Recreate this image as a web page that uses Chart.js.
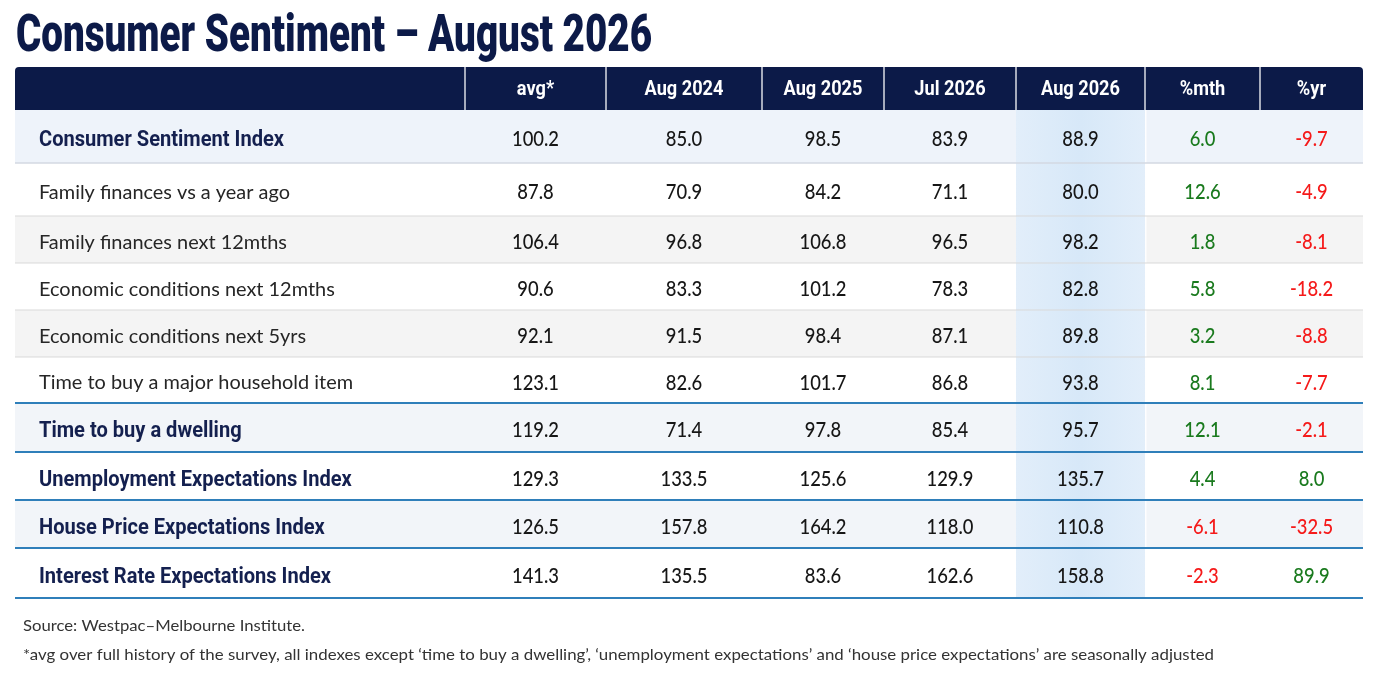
<!DOCTYPE html>
<html>
<head>
<meta charset="utf-8">
<script src="https://cdn.jsdelivr.net/npm/chart.js@4.4.1/dist/chart.umd.min.js"></script>
<style>
  html, body { margin: 0; background: #fff; }
  #wrap { position: relative; width: 1379px; height: 690px; }
</style>
</head>
<body>
<div id="wrap"><canvas id="table"></canvas></div>
<script>
const title = "Consumer Sentiment – August 2026";
const columns = ["avg*", "Aug 2024", "Aug 2025", "Jul 2026", "Aug 2026", "%mth", "%yr"];
const rows = [
  "Consumer Sentiment Index",
  "Family finances vs a year ago",
  "Family finances next 12mths",
  "Economic conditions next 12mths",
  "Economic conditions next 5yrs",
  "Time to buy a major household item",
  "Time to buy a dwelling",
  "Unemployment Expectations Index",
  "House Price Expectations Index",
  "Interest Rate Expectations Index"
];
const headlineRows = [true, false, false, false, false, false, true, true, true, true];
const avg     = [100.2, 87.8, 106.4, 90.6, 92.1, 123.1, 119.2, 129.3, 126.5, 141.3];
const aug2024 = [85.0, 70.9, 96.8, 83.3, 91.5, 82.6, 71.4, 133.5, 157.8, 135.5];
const aug2025 = [98.5, 84.2, 106.8, 101.2, 98.4, 101.7, 97.8, 125.6, 164.2, 83.6];
const jul2026 = [83.9, 71.1, 96.5, 78.3, 87.1, 86.8, 85.4, 129.9, 118.0, 162.6];
const aug2026 = [88.9, 80.0, 98.2, 82.8, 89.8, 93.8, 95.7, 135.7, 110.8, 158.8];
const pctMth  = [6.0, 12.6, 1.8, 5.8, 3.2, 8.1, 12.1, 4.4, -6.1, -2.3];
const pctYr   = [-9.7, -4.9, -8.1, -18.2, -8.8, -7.7, -2.1, 8.0, -32.5, 89.9];
const source = "Source: Westpac–Melbourne Institute.";
const footnote = "*avg over full history of the survey, all indexes except ‘time to buy a dwelling’, ‘unemployment expectations’ and ‘house price expectations’ are seasonally adjusted";

const series = [avg, aug2024, aug2025, jul2026, aug2026, pctMth, pctYr];

// table grid in scale units: x runs 0..1348, y runs 0..488 (top to bottom)
const colEdges = [0, 450, 591, 747, 869, 1001, 1130, 1245, 1348];
const rowEdges = [0, 53, 106, 153, 200, 247, 293, 342, 390, 438, 488];
const HIGHLIGHT_COL = 4;

const NAVY = "#0c1a48";
const condensed = "Roboto, 'Liberation Sans', sans-serif";
const body = "Lato, 'Noto Sans', sans-serif";

function text(ctx, str, x, y, font, color, align, sx) {
  ctx.save();
  ctx.font = font;
  ctx.fillStyle = color;
  ctx.textAlign = align;
  ctx.textBaseline = "middle";
  ctx.translate(x, y);
  ctx.scale(sx, 1);
  ctx.fillText(str, 0, 0);
  ctx.restore();
}

function fitScale(ctx, str, font, width) {
  ctx.save();
  ctx.font = font;
  const w = ctx.measureText(str).width;
  ctx.restore();
  return width / w;
}

function rowFill(i) {
  if (i === 0) return "#eef3fa";
  if (i < 6) return i % 2 === 0 ? "#f4f4f4" : "#ffffff";
  return i % 2 === 0 ? "#f2f5f9" : "#ffffff";
}

const tablePlugin = {
  id: "tablePlugin",
  afterDraw(chart) {
    const ctx = chart.ctx;
    const xs = chart.scales.x, ys = chart.scales.y;
    const X = v => xs.getPixelForValue(v);
    const Y = v => ys.getPixelForValue(v);
    const left = X(0), right = X(colEdges[colEdges.length - 1]);
    const rowTop = i => Y(rowEdges[i]);
    const rowBot = i => Y(rowEdges[i + 1]);
    const rowMid = i => Y((rowEdges[i] + rowEdges[i + 1]) / 2);
    const top = rowTop(0), bottom = rowBot(rows.length - 1);

    // title
    const titleFont = "900 51px " + condensed;
    const tsx = fitScale(ctx, title, titleFont, 636);
    ctx.save();
    ctx.font = titleFont; ctx.fillStyle = NAVY; ctx.textBaseline = "alphabetic";
    ctx.translate(16, 51); ctx.scale(tsx, 1); ctx.fillText(title, 0, 0);
    ctx.restore();

    // header
    const hTop = top - 43;
    ctx.save();
    ctx.fillStyle = NAVY;
    ctx.beginPath();
    ctx.roundRect(left, hTop, right - left, 43, [4, 4, 0, 0]);
    ctx.fill();
    ctx.strokeStyle = "rgba(255,255,255,0.85)";
    ctx.lineWidth = 1.5;
    for (let c = 1; c < colEdges.length - 1; c++) {
      ctx.beginPath();
      ctx.moveTo(X(colEdges[c]), hTop);
      ctx.lineTo(X(colEdges[c]), top);
      ctx.stroke();
    }
    ctx.restore();
    const hFont = "bold 21px " + condensed;
    const hsx = fitScale(ctx, "Aug 2025", hFont, 79);
    columns.forEach((c, k) => {
      const cx = X((colEdges[k + 1] + colEdges[k + 2]) / 2);
      text(ctx, c, cx, hTop + 23, hFont, "#ffffff", "center", hsx);
    });

    // row backgrounds
    rows.forEach((r, i) => {
      ctx.fillStyle = rowFill(i);
      ctx.fillRect(left, rowTop(i), right - left, rowBot(i) - rowTop(i));
    });

    // highlighted column
    const hx0 = X(colEdges[HIGHLIGHT_COL + 1]), hx1 = X(colEdges[HIGHLIGHT_COL + 2]);
    const g = ctx.createLinearGradient(hx0, 0, hx1, 0);
    g.addColorStop(0, "#e2eefa");
    g.addColorStop(0.5, "#d7e8f8");
    g.addColorStop(1, "#e2eefa");
    ctx.fillStyle = g;
    ctx.fillRect(hx0, top, hx1 - hx0, bottom - top);
    ctx.fillStyle = "rgba(255,255,255,0.9)";
    ctx.fillRect(hx1, top, 1.5, bottom - top);

    // row rules
    rows.forEach((r, i) => {
      ctx.save();
      if (i >= 5) { ctx.strokeStyle = "#2f7fba"; ctx.lineWidth = 2; }
      else if (i === 0) { ctx.strokeStyle = "#d3d9e2"; ctx.lineWidth = 1.5; }
      else { ctx.strokeStyle = "#d9d9d9"; ctx.lineWidth = 1; }
      const y = rowBot(i);
      ctx.beginPath(); ctx.moveTo(left, y); ctx.lineTo(right, y); ctx.stroke();
      ctx.restore();
    });

    // labels and values
    const boldFont = "bold 22px " + condensed;
    const bsx = fitScale(ctx, "Consumer Sentiment Index", boldFont, 245);
    const regFont = "19.5px " + body;
    const rsx = fitScale(ctx, "Family finances vs a year ago", regFont, 251);
    const numFont = "500 21.5px " + body;
    const nsx = fitScale(ctx, "119.2", numFont, 47);
    rows.forEach((r, i) => {
      const cy = rowMid(i) + 3;
      if (headlineRows[i]) text(ctx, r, X(24), cy + 1, boldFont, "#14204f", "left", bsx);
      else text(ctx, r, X(24), cy, regFont, "#262626", "left", rsx);
      series.forEach((s, k) => {
        const v = s[i];
        const cx = X((colEdges[k + 1] + colEdges[k + 2]) / 2);
        let col = "#161616";
        if (k >= 5) col = v < 0 ? "#f51a1a" : "#1a7a1e";
        text(ctx, v.toFixed(1), cx, cy, numFont, col, "center", nsx);
      });
    });

    // footer
    const fFont = "15px " + body;
    text(ctx, source, 23, 626, fFont, "#333333", "left", fitScale(ctx, source, fFont, 282));
    text(ctx, footnote, 23, 655, fFont, "#333333", "left", fitScale(ctx, footnote, fFont, 1191));
  }
};

new Chart(document.getElementById("table"), {
  type: "scatter",
  data: { datasets: [] },
  options: {
    responsive: true,
    maintainAspectRatio: false,
    animation: false,
    layout: { padding: { left: 15, right: 16, top: 110, bottom: 92 } },
    plugins: { legend: { display: false }, tooltip: { enabled: false } },
    scales: {
      x: { type: "linear", min: 0, max: colEdges[colEdges.length - 1], display: false },
      y: { type: "linear", min: 0, max: rowEdges[rowEdges.length - 1], reverse: true, display: false }
    }
  },
  plugins: [tablePlugin]
});
</script>
</body>
</html>
